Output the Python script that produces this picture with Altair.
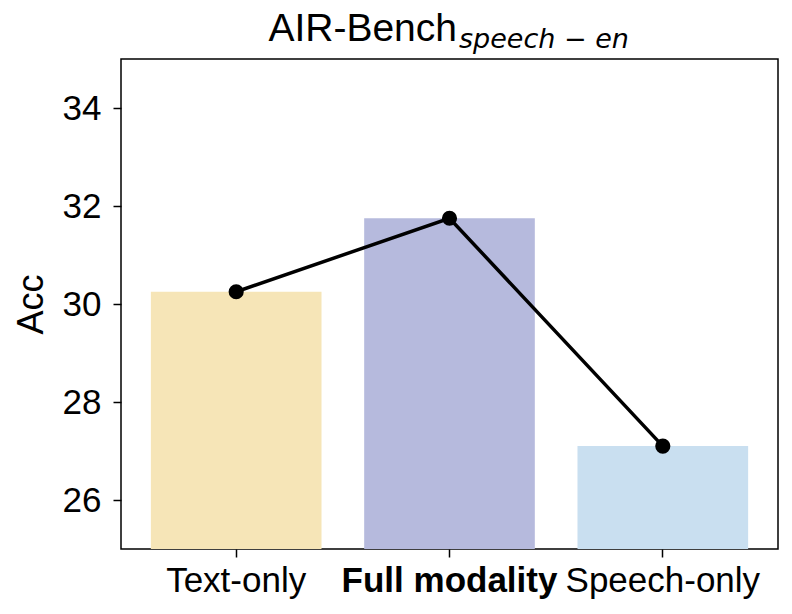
import altair as alt
import pandas as pd

categories = ["Text-only", "Full modality", "Speech-only"]
values = [30.25, 31.75, 27.1]
colors = ["#F6E5B7", "#B6BADD", "#C9DFF0"]
y_ticks = [26, 28, 30, 32, 34]
title_main = "AIR-Bench"
title_sub = "speech − en"

df = pd.DataFrame({"cat": categories, "acc": values, "color": colors})

FONT = "Liberation Sans"
W, H = 657, 490

x = alt.X("cat:N", sort=categories, title=None,
          scale=alt.Scale(paddingInner=0.2, paddingOuter=0.14),
          axis=alt.Axis(labelAngle=0, labelFontSize=35, labelFont=FONT, labelColor="black",
                        labelFontWeight=alt.expr("datum.value == 'Full modality' ? 'bold' : 'normal'"),
                        tickColor="black", tickSize=8, tickWidth=1.5, labelPadding=6,
                        labelLimit=1000, labelOverlap=False, labelFlush=False, domain=False))
y = alt.Y("acc:Q", title="Acc",
          scale=alt.Scale(domain=[25, 35], zero=False, nice=False),
          axis=alt.Axis(values=y_ticks, labelFontSize=35, labelFont=FONT, labelColor="black",
                        titleFontSize=36, titleFont=FONT, titleFontWeight="normal", titleColor="black",
                        tickColor="black", tickSize=8, tickWidth=1.5, labelPadding=12,
                        titlePadding=12, grid=False, domain=False))

bars = alt.Chart(df).mark_bar().encode(
    x=x, y=y, y2=alt.datum(25),
    color=alt.Color("color:N", scale=None, legend=None),
)
line = alt.Chart(df).mark_line(color="black", strokeWidth=3.5).encode(
    x=alt.X("cat:N", sort=categories), y="acc:Q")
pts = alt.Chart(df).mark_point(filled=True, color="black", size=230, opacity=1).encode(
    x=alt.X("cat:N", sort=categories), y="acc:Q")

t1 = alt.Chart(pd.DataFrame({"t": [title_main]})).mark_text(
    align="right", baseline="alphabetic", fontSize=39, font=FONT, color="black"
).encode(text="t:N", x=alt.value(336), y=alt.value(-18))
t2 = alt.Chart(pd.DataFrame({"t": [title_sub]})).mark_text(
    align="left", baseline="alphabetic", fontSize=27, font="DejaVu Sans", fontStyle="italic", color="black"
).encode(text="t:N", x=alt.value(338), y=alt.value(-11))

chart = alt.layer(bars, line, pts, t1, t2).properties(
    width=W, height=H,
    autosize=alt.AutoSizeParams(type="none"),
    padding={"left": 113, "top": 51, "right": 5, "bottom": 60},
).configure(background="white").configure_view(stroke="black", strokeWidth=1.5)

chart.save("out.html", embed_options={"renderer": "svg", "actions": False})
